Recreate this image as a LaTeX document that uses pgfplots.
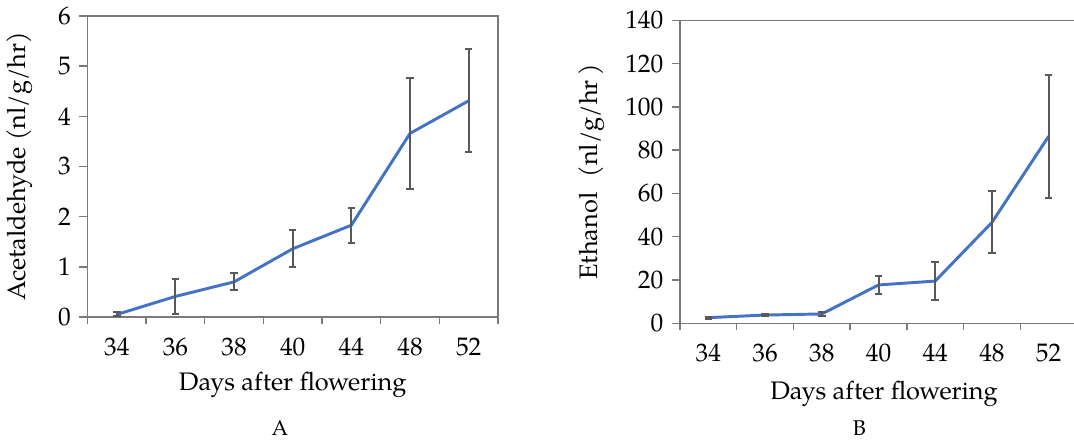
\documentclass[border=0pt]{standalone}
\usepackage{pgfplots}
\pgfplotsset{compat=1.18}
\usepackage{fontspec}
\setmainfont{TeX Gyre Pagella}
\definecolor{lineblue}{HTML}{4472C4}
\definecolor{axgray}{HTML}{7A7A7A}
\definecolor{errgray}{HTML}{595959}
\newcommand{\bigf}{\fontsize{19}{22}\selectfont}
\pgfplotsset{
  mystyle/.style={
    scale only axis,
    anchor=north west,
    xmin=-0.5, xmax=6.5,
    xtick={0,...,6},
    xticklabels={34,36,38,40,44,48,52},
    minor xtick={-0.5,0.5,...,6.5},
    every major x tick/.append style={draw=none},
    tick align=outside,
    xtick pos=bottom, ytick pos=left,
    major tick length=6pt, minor tick length=5.2pt,
    axis line style={axgray, line width=1.1pt},
    every tick/.append style={axgray, line width=1.1pt},
    every minor tick/.append style={axgray, line width=1.1pt},
    every tick label/.append style={font=\bigf, text=black},
    xticklabel style={yshift=-6pt},
    yticklabel style={xshift=-3pt},
    /pgf/number format/assume math mode=true,
    label style={font=\bigf},
  },
  errstyle/.style={
    lineblue, line width=2.2pt, mark=none,
    error bars/.cd, y dir=both, y explicit,
    error bar style={errgray, line width=1.5pt},
    error mark options={errgray, line width=1.5pt, mark size=2.8pt, rotate=90},
  }
}
\begin{document}
\begin{tikzpicture}
\useasboundingbox (-65.6pt,12pt) rectangle (739.9pt,-320.25pt);
\begin{axis}[mystyle,
  at={(0pt,0pt)},
  width=307.9pt, height=225.75pt,
  ymin=0, ymax=6, ytick={0,1,...,6},
  xlabel={Days after flowering},
  ylabel={Acetaldehyde (nl/g/hr)},
  ylabel style={at={(axis description cs:-0.166,0.5)}, anchor=center},
  xlabel style={at={(axis description cs:0.5,-0.226)}, anchor=center},
]
\addplot[errstyle] coordinates {
  (0,0.05) +- (0,0.04)
  (1,0.41) +- (0,0.35)
  (2,0.70) +- (0,0.17)
  (3,1.36) +- (0,0.37)
  (4,1.83) +- (0,0.35)
  (5,3.66) +- (0,1.11)
  (6,4.31) +- (0,1.03)
};
\end{axis}
\begin{axis}[mystyle,
  at={(444.4pt,-3.2pt)},
  width=297.75pt, height=227.25pt,
  ymin=0, ymax=140, ytick={0,20,...,140},
  xlabel={Days after flowering},
  ylabel={Ethanol\hspace{0.6em}(nl/g/hr\hspace{0.2em})},
  ylabel style={at={(axis description cs:-0.222,0.5)}, anchor=center},
  xlabel style={at={(axis description cs:0.514,-0.232)}, anchor=center},
]
\addplot[errstyle] coordinates {
  (0,2.6) +- (0,0.4)
  (1,3.8) +- (0,0.5)
  (2,4.3) +- (0,1.0)
  (3,17.7) +- (0,4.2)
  (4,19.5) +- (0,8.6)
  (5,46.6) +- (0,14.3)
  (6,86.4) +- (0,28.4)
};
\end{axis}
\node[font=\fontsize{16}{18}\selectfont] at (144.4pt,-309pt) {A};
\node[font=\fontsize{16}{18}\selectfont] at (579pt,-309pt) {B};
\end{tikzpicture}
\end{document}
